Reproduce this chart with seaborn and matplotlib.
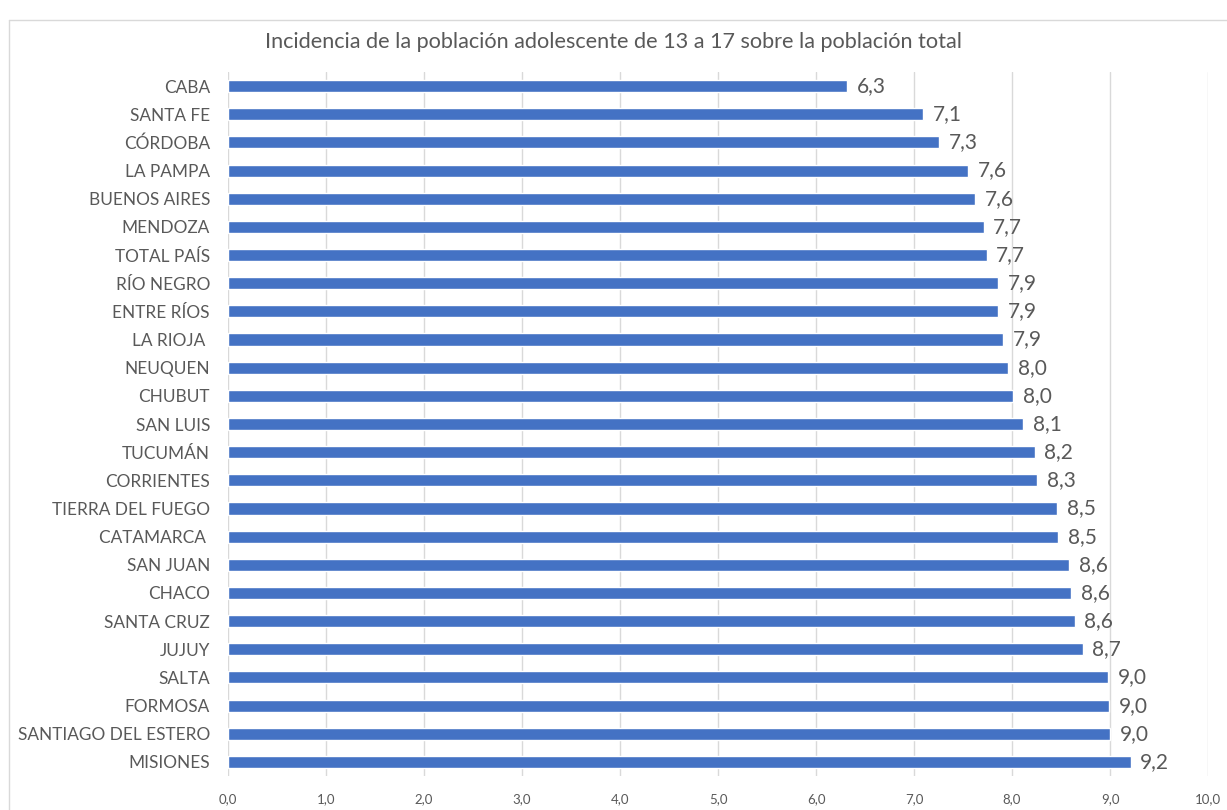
import matplotlib
matplotlib.use("Agg")
import matplotlib.pyplot as plt
import seaborn as sns
import pandas as pd
from matplotlib.lines import Line2D

# Data
provincias = [
    "CABA", "SANTA FE", "CÓRDOBA", "LA PAMPA", "BUENOS AIRES", "MENDOZA",
    "TOTAL PAÍS", "RÍO NEGRO", "ENTRE RÍOS", "LA RIOJA ", "NEUQUEN", "CHUBUT",
    "SAN LUIS", "TUCUMÁN", "CORRIENTES", "TIERRA DEL FUEGO", "CATAMARCA ",
    "SAN JUAN", "CHACO", "SANTA CRUZ", "JUJUY", "SALTA", "FORMOSA",
    "SANTIAGO DEL ESTERO", "MISIONES",
]
incidencia = [
    6.32, 7.09, 7.26, 7.55, 7.62, 7.71, 7.74, 7.86, 7.86, 7.91, 7.96, 8.01,
    8.11, 8.23, 8.26, 8.46, 8.47, 8.58, 8.60, 8.64, 8.72, 8.98, 8.99, 9.00, 9.21,
]
etiquetas = [
    "6,3", "7,1", "7,3", "7,6", "7,6", "7,7", "7,7", "7,9", "7,9", "7,9", "8,0", "8,0",
    "8,1", "8,2", "8,3", "8,5", "8,5", "8,6", "8,6", "8,6", "8,7", "9,0", "9,0", "9,0", "9,2",
]
ticks = [0, 1, 2, 3, 4, 5, 6, 7, 8, 9, 10]
tick_labels = ["0,0", "1,0", "2,0", "3,0", "4,0", "5,0", "6,0", "7,0", "8,0", "9,0", "10,0"]

df = pd.DataFrame({"provincia": provincias, "incidencia": incidencia})

sns.set_theme(style="white")
plt.rcParams["font.family"] = ["Lato", "DejaVu Sans"]

gray = "#595959"
fig = plt.figure(figsize=(12.27, 8.10), dpi=100)
ax = fig.add_axes([228 / 1227, 1 - 776 / 810, (1208 - 228) / 1227, (776 - 72) / 810])

sns.barplot(data=df, x="incidencia", y="provincia", orient="h",
            color="#4472C4", saturation=1, width=0.43, ax=ax, zorder=3)

ax.bar_label(ax.containers[0], labels=etiquetas, padding=7,
             fontsize=15, color=gray)

ax.set_xlim(0, 10)
ax.set_ylim(len(provincias) - 0.5, -0.5)
ax.set_xticks(ticks)
ax.set_xticklabels(tick_labels)
ax.grid(axis="x", color="#d9d9d9", linewidth=1, zorder=0)
ax.grid(axis="y", visible=False)
for s in ax.spines.values():
    s.set_visible(False)
ax.tick_params(axis="x", length=0, pad=12, labelsize=9.5, labelcolor=gray)
ax.tick_params(axis="y", length=0, pad=13, labelsize=12.4, labelcolor=gray)
ax.set_xlabel("")
ax.set_ylabel("")

fig.text(0.5, 1 - 42 / 810,
         "Incidencia de la población adolescente de 13 a 17 sobre la población total",
         ha="center", va="center", fontsize=15.6, color=gray)

# chart frame
fig.add_artist(Line2D([9 / 1227, 9 / 1227], [0, 1 - 20 / 810], color="#d9d9d9", lw=1))
fig.add_artist(Line2D([9 / 1227, 1], [1 - 20 / 810, 1 - 20 / 810], color="#d9d9d9", lw=1))

fig.savefig("out.png", dpi=100)
